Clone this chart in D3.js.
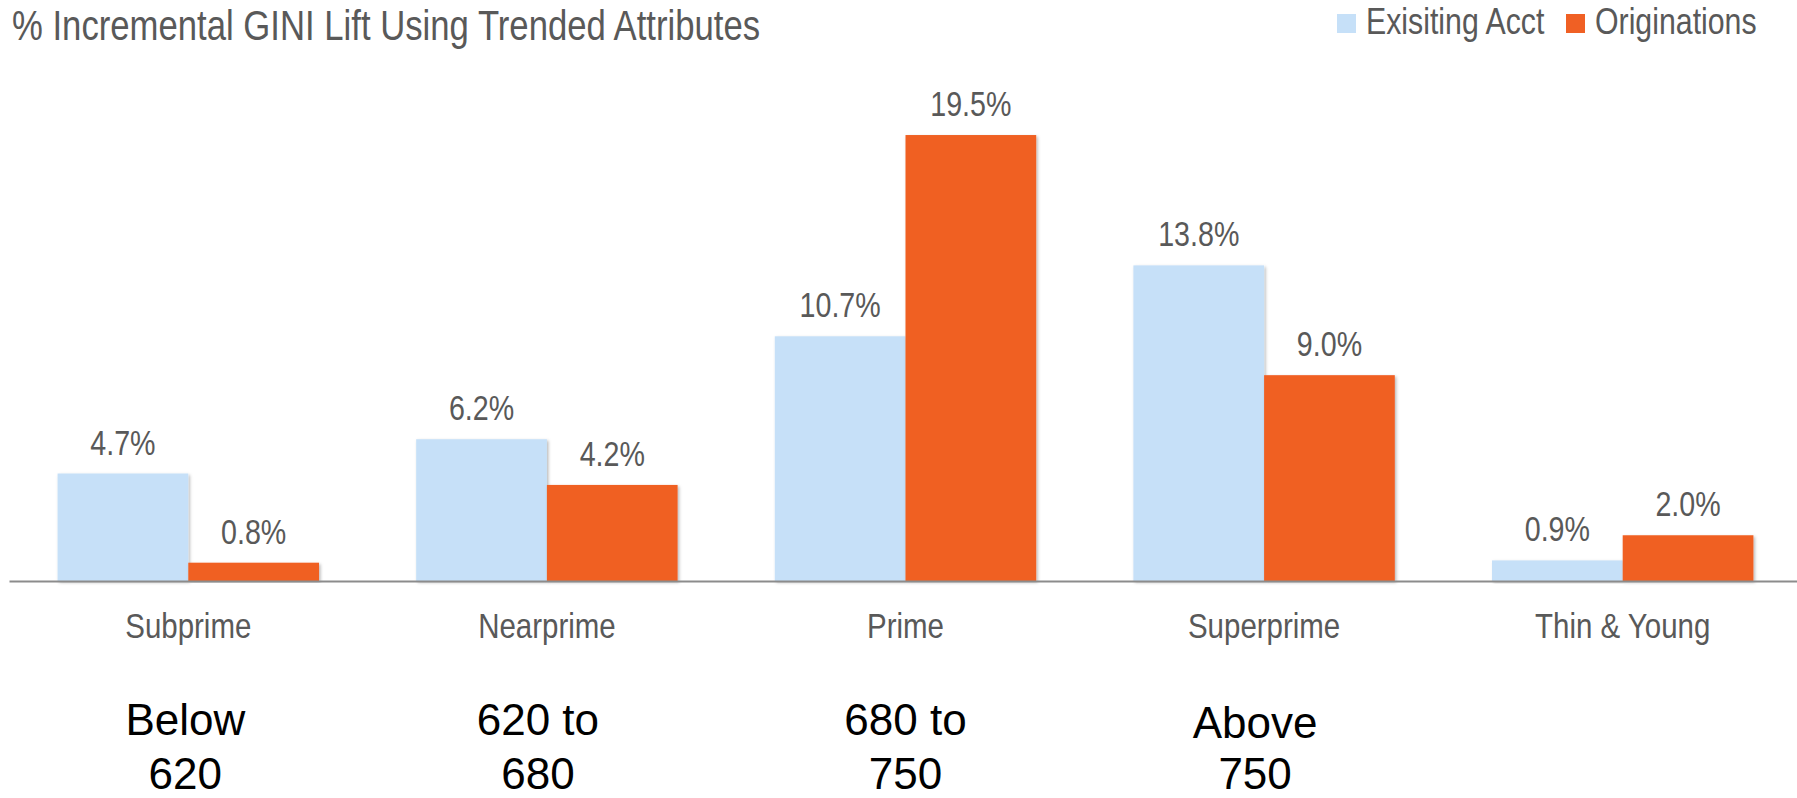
<!DOCTYPE html>
<html>
<head>
<meta charset="utf-8">
<script src="https://cdn.jsdelivr.net/npm/d3@7"></script>
<style>
  html, body { margin: 0; padding: 0; background: #ffffff; }
  svg { display: block; }
</style>
</head>
<body>
<svg id="chart" width="1797" height="798"></svg>
<script>
// Segments and their GINI lift (%) for each population
const categories = ["Subprime", "Nearprime", "Prime", "Superprime", "Thin & Young"];
const seriesNames = ["Exisiting Acct", "Originations"];
const existingAcct = [4.7, 6.2, 10.7, 13.8, 0.9];
const originations = [0.8, 4.2, 19.5, 9.0, 2.0];
// Score ranges written under each segment
const scoreRangeTop = ["Below", "620 to", "680 to", "Above", ""];
const scoreRangeBottom = ["620", "680", "750", "750", ""];

const titleText = "% Incremental GINI Lift Using Trended Attributes";
const colors = ["#C6E0F8", "#F06024"];
const textGray = "#595959";
const narrow = 0.83; // horizontal squeeze for the condensed chart lettering

const svg = d3.select("#chart");
const baseY = 581;

const defs = svg.append("defs");
const f = defs.append("filter").attr("id", "shadow")
  .attr("x", "-10%").attr("y", "-10%").attr("width", "120%").attr("height", "120%");
f.append("feDropShadow").attr("dx", 1.5).attr("dy", 1.5).attr("stdDeviation", 1.5)
  .attr("flood-color", "#000").attr("flood-opacity", 0.28);

const x0 = d3.scaleBand().domain(categories).range([9, 1802])
  .paddingInner(0.271).paddingOuter(0.1355);
const x1 = d3.scaleBand().domain(seriesNames).range([0, x0.bandwidth()]);
const y = d3.scaleLinear().domain([0, 20]).range([baseY, baseY - 20 * 22.87]);

const rows = categories.map((c, i) => ({
  cat: c,
  vals: [existingAcct[i], originations[i]].map((v, j) => ({ s: seriesNames[j], v, j }))
}));

// Bars
const groups = svg.append("g").selectAll("g").data(rows).join("g")
  .attr("transform", d => `translate(${x0(d.cat)},0)`);

groups.selectAll("rect").data(d => d.vals).join("rect")
  .attr("x", d => x1(d.s))
  .attr("y", d => y(d.v))
  .attr("width", x1.bandwidth())
  .attr("height", d => y(0) - y(d.v))
  .attr("fill", d => colors[d.j])
  .attr("filter", "url(#shadow)");

// Value labels
groups.selectAll("text.val").data(d => d.vals).join("text")
  .attr("class", "val")
  .attr("transform", d => `translate(${x1(d.s) + x1.bandwidth() / 2},${y(d.v) - 19}) scale(${narrow},1)`)
  .attr("text-anchor", "middle")
  .attr("font-family", "'Liberation Sans', Arial, sans-serif")
  .attr("font-size", 34.5)
  .attr("fill", textGray)
  .text(d => d.v.toFixed(1) + "%");

// Category axis
const axis = svg.append("g")
  .attr("transform", `translate(0,${baseY})`)
  .call(d3.axisBottom(x0).tickSize(0).tickPadding(0));
axis.select(".domain").attr("stroke", "#8c8c8c").attr("stroke-width", 2.2);
axis.selectAll(".tick text")
  .attr("y", 0).attr("dy", 0)
  .attr("transform", `translate(0,57) scale(${narrow},1)`)
  .attr("font-family", "'Liberation Sans', Arial, sans-serif")
  .attr("font-size", 35.5)
  .attr("fill", textGray);

// Score ranges below the axis
const rangeShift = [-3, -9, 0, -9, 0];
const ranges = svg.append("g").selectAll("g").data(categories).join("g")
  .attr("transform", (d, i) => `translate(${x0(d) + x0.bandwidth() / 2 + rangeShift[i]},${i === 3 ? 3 : 0})`);
ranges.append("text")
  .attr("y", 735)
  .attr("text-anchor", "middle")
  .attr("font-family", "'Liberation Sans', Arial, sans-serif")
  .attr("font-size", 44)
  .attr("fill", "#000")
  .text((d, i) => scoreRangeTop[i]);
ranges.append("text")
  .attr("y", (d, i) => i === 3 ? 786 : 789)
  .attr("text-anchor", "middle")
  .attr("font-family", "'Liberation Sans', Arial, sans-serif")
  .attr("font-size", 44)
  .attr("fill", "#000")
  .text((d, i) => scoreRangeBottom[i]);

// Title
svg.append("text")
  .attr("transform", `translate(12,40) scale(${narrow},1)`)
  .attr("font-family", "'Liberation Sans', Arial, sans-serif")
  .attr("font-size", 41.8)
  .attr("fill", textGray)
  .text(titleText);

// Legend
const legendX = [1337, 1566];
const legend = svg.append("g").selectAll("g").data(seriesNames).join("g")
  .attr("transform", (d, i) => `translate(${legendX[i]},0)`);
legend.append("rect")
  .attr("x", 0).attr("y", 14).attr("width", 19).attr("height", 19)
  .attr("fill", (d, i) => colors[i]);
legend.append("text")
  .attr("transform", `translate(29,34) scale(${narrow},1)`)
  .attr("font-family", "'Liberation Sans', Arial, sans-serif")
  .attr("font-size", 36.5)
  .attr("fill", textGray)
  .text(d => d);
</script>
</body>
</html>
